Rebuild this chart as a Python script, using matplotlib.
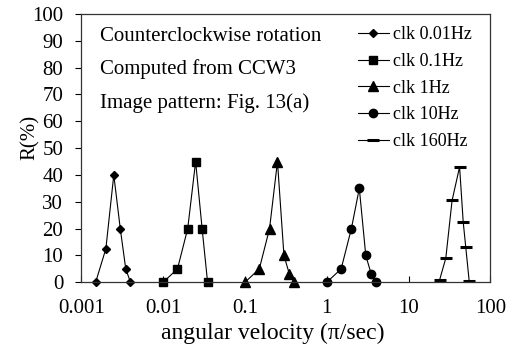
import matplotlib
matplotlib.use("Agg")
import matplotlib.pyplot as plt

plt.rcParams['font.family'] = ['Liberation Serif', 'DejaVu Serif']

# data
x_001 = [0.0015, 0.002, 0.0025, 0.003, 0.0035, 0.004]
r_001 = [0, 12.5, 40, 20, 5, 0]

x_01 = [0.01, 0.015, 0.02, 0.025, 0.03, 0.035]
r_01 = [0, 5, 20, 45, 20, 0]

x_1 = [0.1, 0.15, 0.2, 0.25, 0.3, 0.35, 0.4]
r_1 = [0, 5, 20, 45, 10, 3, 0]

x_10 = [1, 1.5, 2, 2.5, 3, 3.5, 4]
r_10 = [0, 5, 20, 35, 10, 3, 0]

x_160 = [24, 28.5, 34, 42, 46.5, 50, 55]
r_160 = [1, 9, 30.5, 43, 22.5, 13, 0.5]

labels = ['clk 0.01Hz', 'clk 0.1Hz', 'clk 1Hz', 'clk 10Hz', 'clk 160Hz']
notes = ['Counterclockwise rotation', 'Computed from CCW3', 'Image pattern: Fig. 13(a)']

fig = plt.figure(figsize=(5.22, 3.6), dpi=100)
ax = fig.add_axes([0.1556, 0.2158, 0.7839, 0.7453])

lw = 0.8
ax.plot(x_001, r_001, color='black', lw=lw, marker='D', ms=4.5, label=labels[0], clip_on=False)
ax.plot(x_01, r_01, color='black', lw=lw, marker='s', ms=6, label=labels[1], clip_on=False)
ax.plot(x_1, r_1, color='black', lw=lw, marker='^', ms=6.5, label=labels[2], clip_on=False)
ax.plot(x_10, r_10, color='black', lw=lw, marker='o', ms=6, label=labels[3], clip_on=False)
ax.plot(x_160, r_160, color='black', lw=lw, marker='_', ms=8, mew=2.2, label=labels[4], clip_on=False)

ax.set_xscale('log')
ax.set_xlim(0.001, 100)
ax.set_ylim(0, 100)
ax.set_xticks([0.001, 0.01, 0.1, 1, 10, 100])
ax.set_xticklabels(['0.001', '0.01', '0.1', '1', '10', '100'])
ax.minorticks_off()
ax.set_yticks(range(0, 101, 10))

ax.tick_params(axis='x', direction='in', length=4, width=0.8, labelsize=15, pad=12)
ax.tick_params(axis='y', direction='out', length=4, width=0.8, labelsize=15, pad=9)
for s in ax.spines.values():
    s.set_linewidth(0.9)
    s.set_color('#333333')

ax.set_xlabel('angular velocity (\u03c0/sec)', fontsize=17)
ax.xaxis.set_label_coords(0.4675, -0.15)
ax.set_ylabel('R(%)', fontsize=15)
ax.yaxis.set_label_coords(-0.10, 0.54)

note_y = [0.90, 0.775, 0.65]
for t, yy in zip(notes, note_y):
    ax.text(0.046, yy, t, transform=ax.transAxes, fontsize=15, va='baseline')

leg = ax.legend(loc='upper left', frameon=False, fontsize=13, handlelength=1.7,
                handletextpad=0.25, labelspacing=0.54, borderpad=0,
                borderaxespad=0, bbox_to_anchor=(0.676, 0.955))

fig.savefig('out.png', dpi=100)
